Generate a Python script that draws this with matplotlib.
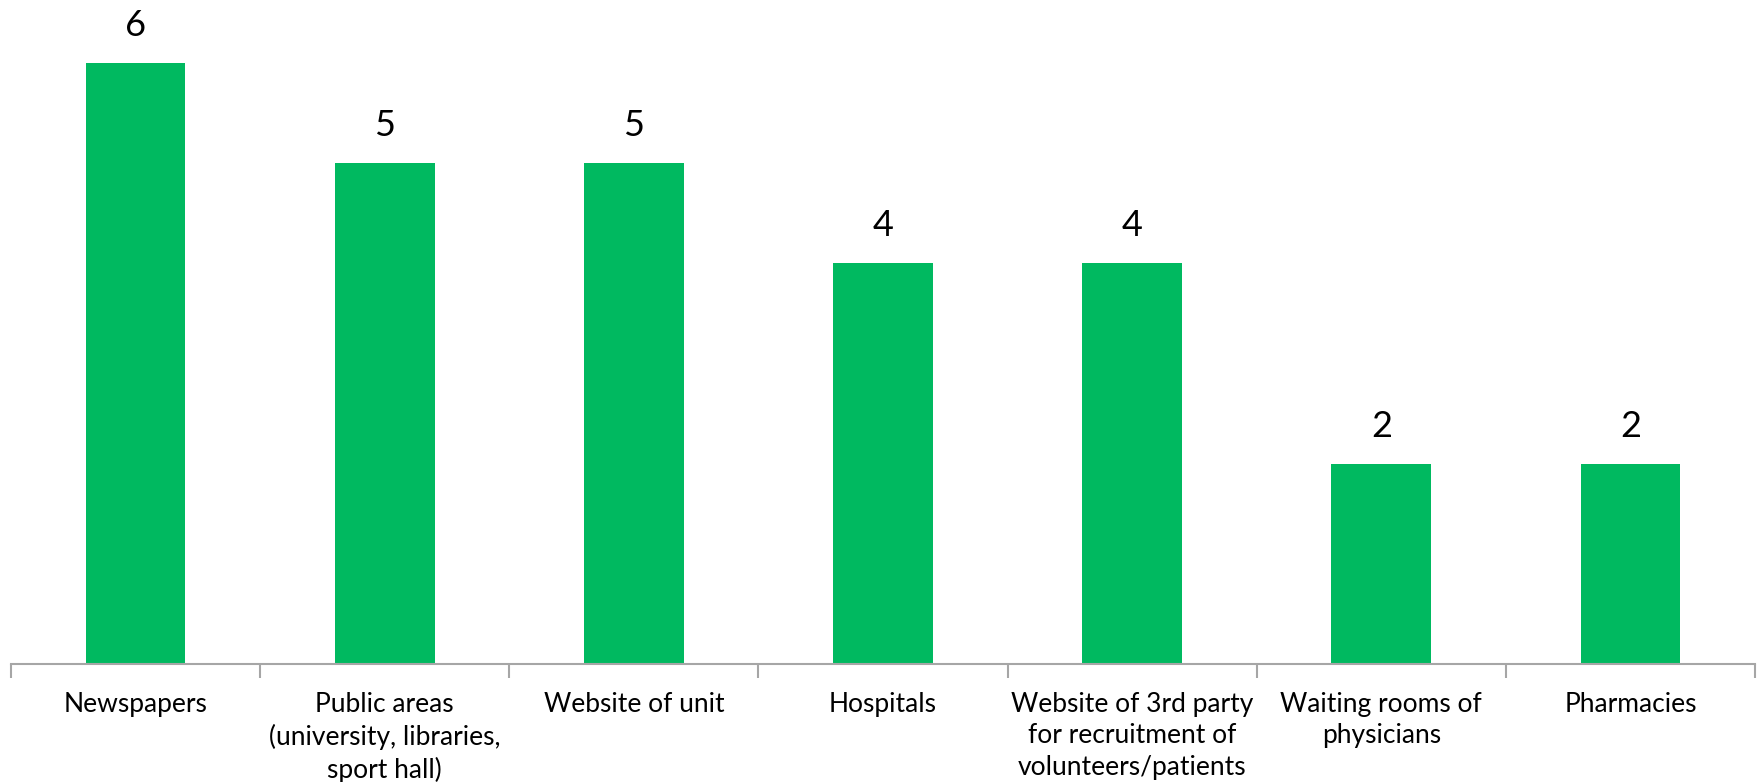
import matplotlib.pyplot as plt
import numpy as np

plt.rcParams['font.family'] = ['Lato', 'DejaVu Sans']

categories = [
    "Newspapers",
    "Public areas\n(university, libraries,\nsport hall)",
    "Website of unit",
    "Hospitals",
    "Website of 3rd party\nfor recruitment of\nvolunteers/patients",
    "Waiting rooms of\nphysicians",
    "Pharmacies",
]
counts = [6, 5, 5, 4, 4, 2, 2]

bar_color = '#00b960'
axis_color = '#a6a6a6'

fig = plt.figure(figsize=(17.6, 7.82), dpi=100)
ax = fig.add_axes([11 / 1760, 118 / 782, 1744 / 1760, 664 / 782])

x = np.arange(len(categories))
bars = ax.bar(x, counts, width=0.4, color=bar_color)

for b, v in zip(bars, counts):
    ax.text(b.get_x() + b.get_width() / 2, v + 0.21, str(v),
            ha='center', va='bottom', fontsize=26, color='black')

ax.set_xlim(-0.5, len(categories) - 0.5)
ax.set_ylim(0, 6.63)

# category names centred, tick marks on the boundaries
ax.set_xticks(x)
ax.set_xticklabels(categories, fontsize=19, linespacing=1.32)
ax.tick_params(axis='x', which='major', length=0, pad=20)
ax.set_xticks(np.arange(-0.5, len(categories), 1.0), minor=True)
ax.tick_params(axis='x', which='minor', length=10, width=1.5, color=axis_color)

ax.set_yticks([])
for side in ['top', 'right', 'left']:
    ax.spines[side].set_visible(False)
ax.spines['bottom'].set_color(axis_color)
ax.spines['bottom'].set_linewidth(1.5)

fig.savefig('out.png', dpi=100)
